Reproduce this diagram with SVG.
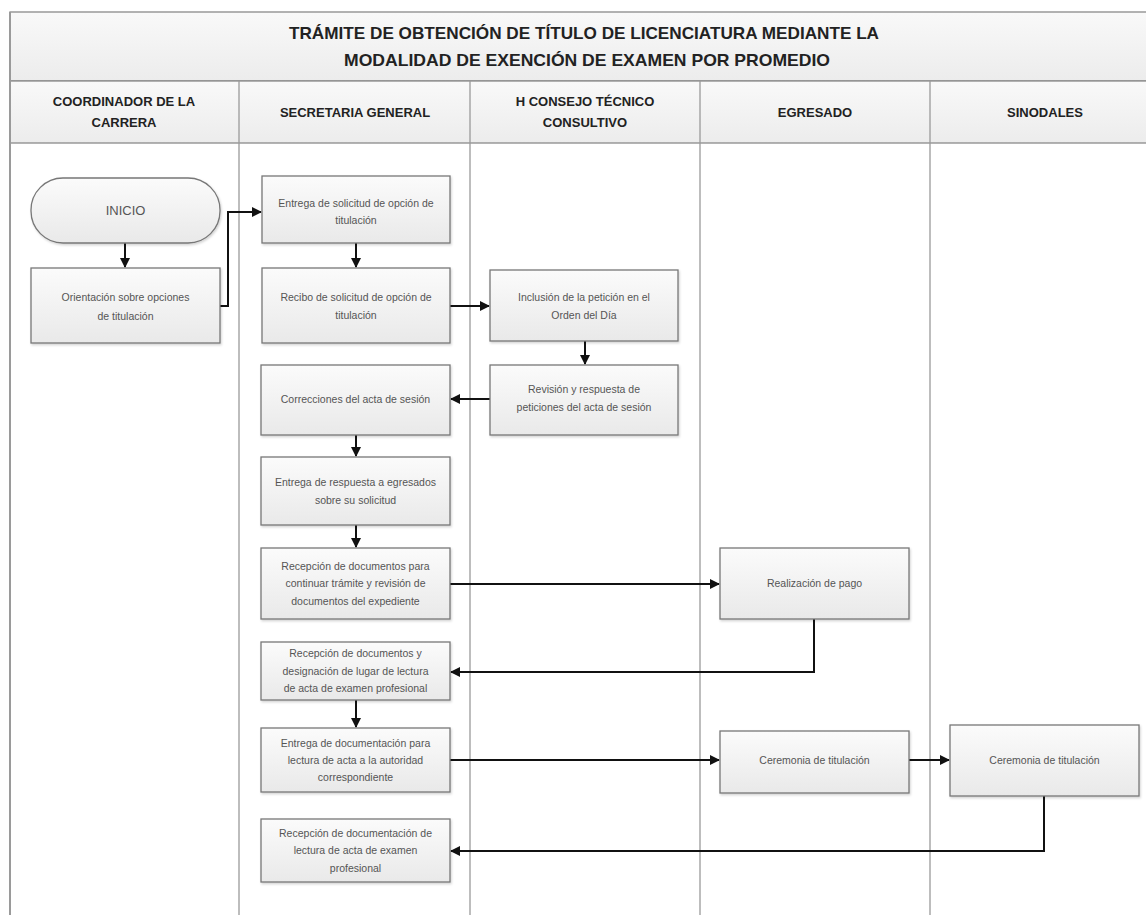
<svg xmlns="http://www.w3.org/2000/svg" width="1146" height="915" viewBox="0 0 1146 915">
<style>
.lane{stroke:#9a9a9a;stroke-width:1.3;fill:none}
.hdr{font-family:"Liberation Sans",Arial,sans-serif;font-weight:bold;font-size:13px;fill:#222;text-anchor:middle}
.ttl{font-family:"Liberation Sans",Arial,sans-serif;font-weight:bold;font-size:17px;fill:#222;text-anchor:middle}
.box{fill:url(#bg);stroke:#777;stroke-width:1.3;filter:url(#sh)}
.t{font-family:"Liberation Sans",Arial,sans-serif;font-size:10.5px;fill:#555;text-anchor:middle}
.c{stroke:#111;stroke-width:2;fill:none;marker-end:url(#ah)}
</style>
<defs>
<linearGradient id="bg" x1="0" y1="0" x2="0" y2="1">
<stop offset="0" stop-color="#fbfbfb"/>
<stop offset="1" stop-color="#e9e9e9"/>
</linearGradient>
<linearGradient id="hg" x1="0" y1="0" x2="0" y2="1">
<stop offset="0" stop-color="#f9f9f9"/>
<stop offset="1" stop-color="#ececec"/>
</linearGradient>
<filter id="sh" x="-5%" y="-5%" width="115%" height="120%">
<feDropShadow dx="1" dy="1.5" stdDeviation="1" flood-color="#000" flood-opacity="0.18"/>
</filter>
<marker id="ah" viewBox="0 0 10 10" refX="9" refY="5" markerWidth="11" markerHeight="10" orient="auto" markerUnits="userSpaceOnUse">
<path d="M0,0 L10,5 L0,10 z" fill="#111"/>
</marker>
</defs>
<rect width="1146" height="915" fill="#fff"/>
<g id="frame">
<rect x="10" y="12" width="1140" height="69" fill="url(#hg)" stroke="#8a8a8a" stroke-width="1.3"/>
<rect x="10" y="81" width="1140" height="62" fill="url(#hg)" stroke="#8a8a8a" stroke-width="1.3"/>
<line class="lane" x1="10" y1="12" x2="10" y2="915" style="stroke-width:2"/>
<line class="lane" x1="239" y1="81" x2="239" y2="915"/>
<line class="lane" x1="470" y1="81" x2="470" y2="915"/>
<line class="lane" x1="700" y1="81" x2="700" y2="915"/>
<line class="lane" x1="930" y1="81" x2="930" y2="915"/>
<text class="ttl" x="584" y="39" textLength="590" lengthAdjust="spacingAndGlyphs">TRÁMITE DE OBTENCIÓN DE TÍTULO DE LICENCIATURA MEDIANTE LA</text>
<text class="ttl" x="587" y="66" textLength="486" lengthAdjust="spacingAndGlyphs">MODALIDAD DE EXENCIÓN DE EXAMEN POR PROMEDIO</text>
<text class="hdr" x="124" y="106">COORDINADOR DE LA</text>
<text class="hdr" x="124" y="127">CARRERA</text>
<text class="hdr" x="355" y="117">SECRETARIA GENERAL</text>
<text class="hdr" x="585" y="106">H CONSEJO TÉCNICO</text>
<text class="hdr" x="585" y="127">CONSULTIVO</text>
<text class="hdr" x="815" y="117">EGRESADO</text>
<text class="hdr" x="1045" y="117">SINODALES</text>
</g>
<g id="connectors">
<path class="c" d="M125,243 V267"/>
<path class="c" d="M220,306 H228 V212 H261"/>
<path class="c" d="M356,243 V267"/>
<path class="c" d="M450,306 H489"/>
<path class="c" d="M585,341 V364"/>
<path class="c" d="M490,399 H451"/>
<path class="c" d="M356,435 V456"/>
<path class="c" d="M356,525 V547"/>
<path class="c" d="M450,584 H719"/>
<path class="c" d="M814,619 V672 H451"/>
<path class="c" d="M356,700 V727"/>
<path class="c" d="M450,760 H719"/>
<path class="c" d="M909,760 H949"/>
<path class="c" d="M1044,796 V851 H451"/>
</g>
<g id="n-inicio">
<rect class="box" x="31" y="178" width="189" height="65" rx="32" ry="32"/>
<text class="t" x="125.5" y="215" style="font-size:13px">INICIO</text>
</g>
<g id="n-orientacion">
<rect class="box" x="31" y="268" width="189" height="75"/>
<text class="t" x="125.5" y="301">Orientación sobre opciones</text>
<text class="t" x="125.5" y="320">de titulación</text>
</g>
<g id="n-entrega-solicitud">
<rect class="box" x="262" y="176" width="188" height="67"/>
<text class="t" x="356" y="207">Entrega de solicitud de opción de</text>
<text class="t" x="356" y="224">titulación</text>
</g>
<g id="n-recibo">
<rect class="box" x="262" y="268" width="188" height="75"/>
<text class="t" x="356" y="301">Recibo de solicitud de opción de</text>
<text class="t" x="356" y="319">titulación</text>
</g>
<g id="n-inclusion">
<rect class="box" x="490" y="270" width="188" height="71"/>
<text class="t" x="584" y="301">Inclusión de la petición en el</text>
<text class="t" x="584" y="319">Orden del Día</text>
</g>
<g id="n-revision">
<rect class="box" x="490" y="365" width="188" height="70"/>
<text class="t" x="584" y="393">Revisión y respuesta de</text>
<text class="t" x="584" y="411">peticiones del acta de sesión</text>
</g>
<g id="n-correcciones">
<rect class="box" x="261" y="365" width="189" height="70"/>
<text class="t" x="355.5" y="403">Correcciones del acta de sesión</text>
</g>
<g id="n-entrega-respuesta">
<rect class="box" x="261" y="457" width="189" height="68"/>
<text class="t" x="355.5" y="486">Entrega de respuesta a egresados</text>
<text class="t" x="355.5" y="504">sobre su solicitud</text>
</g>
<g id="n-recepcion-continuar">
<rect class="box" x="261" y="548" width="189" height="71"/>
<text class="t" x="355.5" y="570">Recepción de documentos para</text>
<text class="t" x="355.5" y="587">continuar trámite y revisión de</text>
<text class="t" x="355.5" y="605">documentos del expediente</text>
</g>
<g id="n-pago">
<rect class="box" x="720" y="548" width="189" height="71"/>
<text class="t" x="814.5" y="587">Realización de pago</text>
</g>
<g id="n-recepcion-designacion">
<rect class="box" x="261" y="642" width="189" height="58"/>
<text class="t" x="355.5" y="657">Recepción de documentos y</text>
<text class="t" x="355.5" y="675">designación de lugar de lectura</text>
<text class="t" x="355.5" y="692">de acta de examen profesional</text>
</g>
<g id="n-entrega-documentacion">
<rect class="box" x="261" y="728" width="189" height="64"/>
<text class="t" x="355.5" y="747">Entrega de documentación para</text>
<text class="t" x="355.5" y="764">lectura de acta a la autoridad</text>
<text class="t" x="355.5" y="781">correspondiente</text>
</g>
<g id="n-ceremonia-egresado">
<rect class="box" x="720" y="731" width="189" height="62"/>
<text class="t" x="814.5" y="764">Ceremonia de titulación</text>
</g>
<g id="n-ceremonia-sinodales">
<rect class="box" x="950" y="725" width="189" height="71"/>
<text class="t" x="1044.5" y="764">Ceremonia de titulación</text>
</g>
<g id="n-recepcion-documentacion">
<rect class="box" x="261" y="819" width="189" height="63"/>
<text class="t" x="355.5" y="837">Recepción de documentación de</text>
<text class="t" x="355.5" y="854">lectura de acta de examen</text>
<text class="t" x="355.5" y="872">profesional</text>
</g>
</svg>
